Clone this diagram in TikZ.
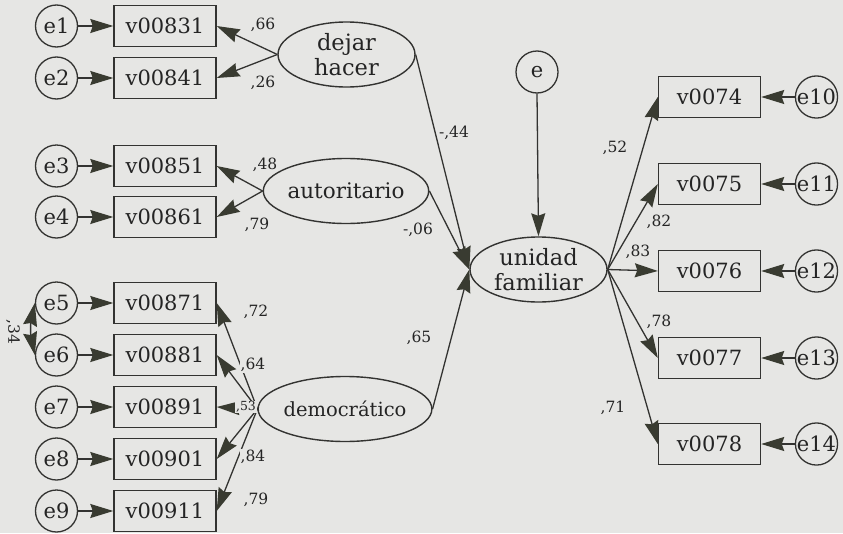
\documentclass[tikz,border=0pt]{standalone}
\usepackage{fontspec}
\setmainfont{DejaVu Serif}
\usetikzlibrary{shapes.geometric,arrows.meta}
\definecolor{bg}{HTML}{E6E6E4}
\definecolor{ln}{HTML}{333331}
\definecolor{tx}{HTML}{242424}
\definecolor{hd}{HTML}{393B31}
\begin{document}
\begin{tikzpicture}[x=1pt,y=-1pt,
  errc/.style={circle, draw=ln, line width=1.3pt, minimum size=42pt, inner sep=0pt, text=tx, font=\fontsize{21}{22}\selectfont},
  obs/.style={rectangle, draw=ln, line width=1.4pt, minimum width=102pt, minimum height=41pt, inner sep=0pt, text=tx, font=\fontsize{21}{22}\selectfont},
  lat/.style={ellipse, draw=ln, line width=1.4pt, minimum width=137pt, minimum height=65pt, inner sep=0pt, align=center, text=tx, font=\fontsize{22}{25}\selectfont},
  coef/.style={font=\fontsize{15.5}{17}\selectfont, inner sep=1pt, text=tx},
  gap/.style={fill=bg},
  tip/.tip={Stealth[length=23pt,width=14pt,inset=2.5pt,fill=hd,color=hd]},
  conn/.style={draw=ln, line width=1.3pt, -tip},
  conn2/.style={draw=ln, line width=1.3pt, tip-tip}
]
\fill[bg] (0,0) rectangle (843,533);
% left error circles and indicators
\foreach \i/\y/\v in {1/26/v00831, 2/78/v00841, 3/166/v00851, 4/217/v00861, 5/303/v00871, 6/355/v00881, 7/407/v00891, 8/459/v00901, 9/511/v00911}{
  \node[errc] (e\i) at (56.5,\y) {e\i};
  \node[obs] (v\i) at (165,\y) {\v};
}
% right indicators and errors
\foreach \i/\y/\v in {10/97/v0074, 11/184/v0075, 12/271/v0076, 13/358/v0077, 14/444/v0078}{
  \node[obs] (v\i) at (709.5,\y) {\v};
  \node[errc] (e\i) at (816.5,\y) {e\i};
}
% latent variables
\node[lat, font=\fontsize{22.5}{25}\selectfont] (dh) at (346.5,54.5) {dejar\\hacer};
\node[lat, font=\fontsize{21.5}{25}\selectfont] (au) at (346,191) {autoritario};
\node[lat, font=\fontsize{19.5}{25}\selectfont] (de) at (345,409) {democrático};
\node[lat, font=\fontsize{22.5}{25}\selectfont] (uf) at (538.5,269.5) {unidad\\familiar};
\node[errc] (e) at (537,72) {e};
% error arrows
\foreach \i in {1,...,9}{ \draw[conn] (e\i) -- (v\i); }
\foreach \i in {10,...,14}{ \draw[conn] (e\i) -- (v\i); }
% loadings
\draw[conn] (dh.west) -- (v1.east);
\draw[conn] (dh.west) -- (v2.east);
\draw[conn] (au.west) -- (v3.east);
\draw[conn] (au.west) -- (v4.east);
\foreach \i in {5,...,9}{ \draw[conn] (de.west) -- (v\i.east); }
\foreach \i in {10,...,14}{ \draw[conn] (uf.east) -- (v\i.west); }
% structural paths
\draw[conn] (dh.east) -- (uf.west);
\draw[conn] (au.east) -- (uf.west);
\draw[conn] (de.east) -- (uf.west);
\draw[conn] (e.south) -- (uf.north);
% covariance
\draw[conn2] (e5.west) to[bend right=12] (e6.west);
\node[coef, rotate=-90] (c34) at (13,332) {,34};
% coefficients
\node[coef] (c1) at (263,25) {,66};
\node[coef] (c2) at (263,83) {,26};
\node[coef] (c3) at (265,165) {,48};
\node[coef] (c4) at (257,225) {,79};
\node[coef] (c5) at (454,133) {-,44};
\node[coef] (c6) at (418,230) {-,06};
\node[coef] (c7) at (256,312) {,72};
\node[coef, gap] (c8) at (253,365) {,64};
\node[coef, gap, font=\fontsize{12.5}{14}\selectfont] (c9) at (246,407) {,53};
\node[coef, gap] (c10) at (253,457) {,84};
\node[coef] (c11) at (256,500) {,79};
\node[coef] (c12) at (419,338) {,65};
\node[coef] (c13) at (615,148) {,52};
\node[coef] (c14) at (659,222) {,82};
\node[coef] (c15) at (638,252) {,83};
\node[coef] (c16) at (659,322) {,78};
\node[coef] (c17) at (613,408) {,71};
\end{tikzpicture}
\end{document}
